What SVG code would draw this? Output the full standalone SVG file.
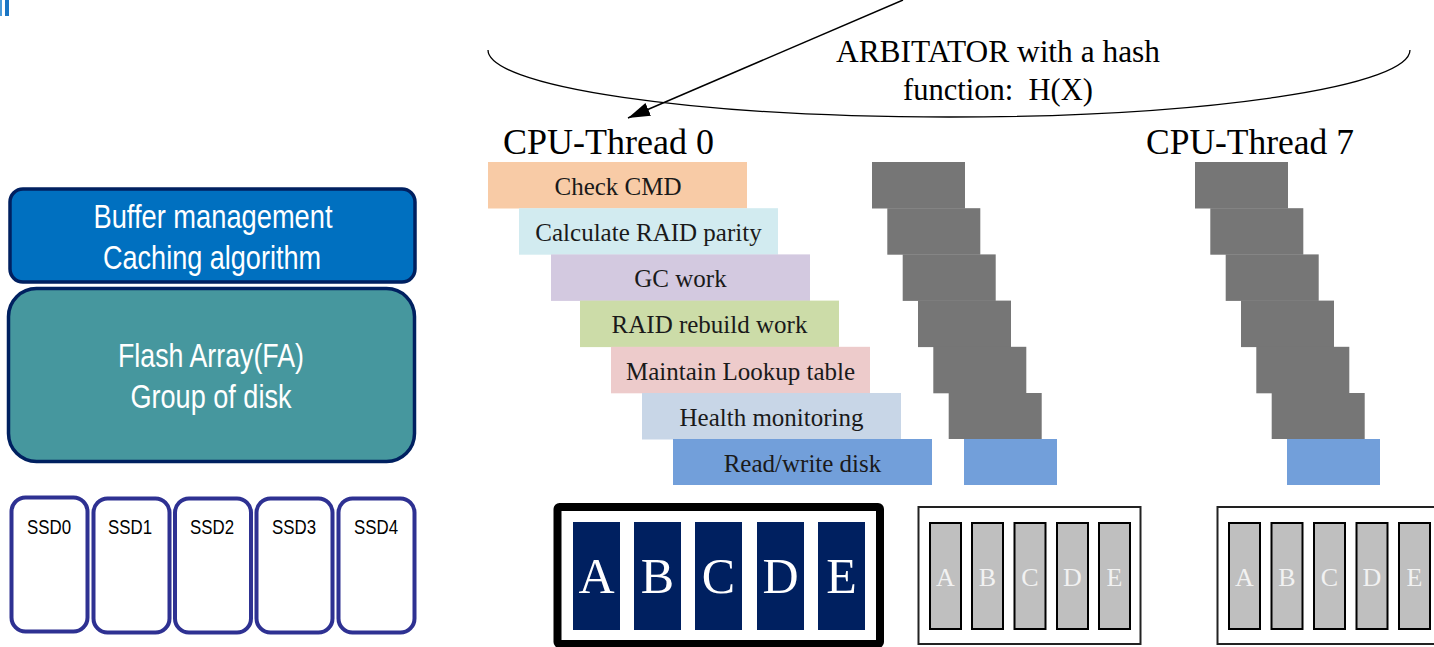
<svg xmlns="http://www.w3.org/2000/svg" width="1434" height="647" viewBox="0 0 1434 647">
<style>
.sans{font-family:"Liberation Sans",Arial,sans-serif;}
.serif{font-family:"Liberation Serif","Times New Roman",serif;}
.wt{fill:#ffffff;}
.task{font-size:25px;fill:#1a1a1a;text-anchor:middle;}
.gray{fill:#767676;}
.blue{fill:#729FDA;}
.ssd{fill:#ffffff;stroke:#2E3192;stroke-width:4;}
.disk{fill:#BFBFBF;stroke:#000;stroke-width:2;}
.glet{font-size:26px;fill:#F2F2F2;text-anchor:middle;}
.nav{fill:#002060;}
.nlet{font-size:50px;fill:#ffffff;text-anchor:middle;}
</style>
<defs>
<marker id="ah" markerUnits="userSpaceOnUse" markerWidth="24" markerHeight="16" refX="22" refY="7" orient="auto">
<path d="M0,0 L22,7 L0,14 Z" fill="#000"/>
</marker>
</defs>
<rect width="1434" height="647" fill="#ffffff"/>
<g id="corner-mark">
<rect x="0" y="0" width="2" height="16" fill="#4A9AD8"/>
<rect x="5" y="0" width="4" height="16" fill="#1A75C4"/>
</g>
<g id="buffer">
<rect x="10" y="189" width="405" height="93" rx="13" fill="#0070C0" stroke="#002060" stroke-width="3.5"/>
<text class="sans wt" x="213" y="228" font-size="34" text-anchor="middle" textLength="239" lengthAdjust="spacingAndGlyphs">Buffer management</text>
<text class="sans wt" x="212" y="269" font-size="34" text-anchor="middle" textLength="218" lengthAdjust="spacingAndGlyphs">Caching algorithm</text>
</g>
<g id="flash">
<rect x="8.5" y="288.5" width="406" height="173" rx="28" fill="#46979E" stroke="#002060" stroke-width="3.5"/>
<text class="sans wt" x="211" y="367" font-size="34" text-anchor="middle" textLength="186" lengthAdjust="spacingAndGlyphs">Flash Array(FA)</text>
<text class="sans wt" x="211" y="408" font-size="34" text-anchor="middle" textLength="161" lengthAdjust="spacingAndGlyphs">Group of disk</text>
</g>
<g id="ssds">
<g id="ssd0"><rect class="ssd" x="11.5" y="497.5" width="76" height="134" rx="14"/><text class="sans" x="49" y="534" font-size="21" text-anchor="middle" textLength="44" lengthAdjust="spacingAndGlyphs">SSD0</text></g>
<g id="ssd1"><rect class="ssd" x="93.5" y="498.5" width="76" height="134" rx="14"/><text class="sans" x="130" y="534" font-size="21" text-anchor="middle" textLength="44" lengthAdjust="spacingAndGlyphs">SSD1</text></g>
<g id="ssd2"><rect class="ssd" x="175" y="498.5" width="76" height="134" rx="14"/><text class="sans" x="212" y="534" font-size="21" text-anchor="middle" textLength="44" lengthAdjust="spacingAndGlyphs">SSD2</text></g>
<g id="ssd3"><rect class="ssd" x="256.5" y="498.5" width="76" height="134" rx="14"/><text class="sans" x="294" y="534" font-size="21" text-anchor="middle" textLength="44" lengthAdjust="spacingAndGlyphs">SSD3</text></g>
<g id="ssd4"><rect class="ssd" x="338.5" y="498.5" width="76" height="134" rx="14"/><text class="sans" x="376" y="534" font-size="21" text-anchor="middle" textLength="44" lengthAdjust="spacingAndGlyphs">SSD4</text></g>
</g>
<g id="arbitrator">
<path d="M488,50 A461,67 0 0 0 1410,50" fill="none" stroke="#000" stroke-width="1.3"/>
<text class="serif" x="998" y="62" font-size="31" text-anchor="middle" textLength="324" lengthAdjust="spacingAndGlyphs">ARBITATOR with a hash</text>
<text class="serif" x="998" y="100" font-size="31" text-anchor="middle" textLength="190" lengthAdjust="spacingAndGlyphs" xml:space="preserve">function:  H(X)</text>
</g>
<g id="connectors">
<line x1="903" y1="0" x2="628" y2="118" stroke="#000" stroke-width="1.5" marker-end="url(#ah)"/>
</g>
<g id="thread0">
<text class="serif" x="503" y="154" font-size="36" textLength="211" lengthAdjust="spacingAndGlyphs">CPU-Thread 0</text>
<g id="t-check"><rect x="488" y="162" width="259" height="46.5" fill="#F8CBA6"/><text class="serif task" x="618" y="195">Check CMD</text></g>
<g id="t-parity"><rect x="519" y="208.2" width="259" height="46.5" fill="#D2EBF0"/><text class="serif task" x="648.5" y="241">Calculate RAID parity</text></g>
<g id="t-gc"><rect x="551" y="254.4" width="259" height="46.5" fill="#D3C9E0"/><text class="serif task" x="680.5" y="287">GC work</text></g>
<g id="t-rebuild"><rect x="580" y="300.6" width="259" height="46.5" fill="#CCDCA8"/><text class="serif task" x="709.5" y="333">RAID rebuild work</text></g>
<g id="t-lookup"><rect x="611" y="346.8" width="259" height="46.5" fill="#EDCBCB"/><text class="serif task" x="740.5" y="380">Maintain Lookup table</text></g>
<g id="t-health"><rect x="642" y="393" width="259" height="46.5" fill="#C8D6E7"/><text class="serif task" x="771.5" y="426">Health monitoring</text></g>
<g id="t-rw"><rect x="673" y="439" width="259" height="46" fill="#729FDA"/><text class="serif task" x="802.5" y="472">Read/write disk</text></g>
</g>
<g id="thread1">
<rect class="gray" x="872" y="162" width="93" height="46.5"/>
<rect class="gray" x="887.3" y="208.2" width="93" height="46.5"/>
<rect class="gray" x="902.7" y="254.4" width="93" height="46.5"/>
<rect class="gray" x="918" y="300.6" width="93" height="46.5"/>
<rect class="gray" x="933.3" y="346.8" width="93" height="46.5"/>
<rect class="gray" x="948.7" y="393" width="93" height="46"/>
<rect class="blue" x="964" y="439" width="93" height="46"/>
</g>
<g id="thread7">
<text class="serif" x="1146" y="154" font-size="36" textLength="208" lengthAdjust="spacingAndGlyphs">CPU-Thread 7</text>
<rect class="gray" x="1195" y="162" width="93" height="46.5"/>
<rect class="gray" x="1210.3" y="208.2" width="93" height="46.5"/>
<rect class="gray" x="1225.7" y="254.4" width="93" height="46.5"/>
<rect class="gray" x="1241" y="300.6" width="93" height="46.5"/>
<rect class="gray" x="1256.3" y="346.8" width="93" height="46.5"/>
<rect class="gray" x="1271.7" y="393" width="93" height="46"/>
<rect class="blue" x="1287" y="439" width="93" height="46"/>
</g>
<g id="array0">
<rect x="557.5" y="507" width="322.5" height="137" fill="#ffffff" stroke="#000" stroke-width="8" rx="2"/>
<rect class="nav" x="573" y="522" width="47" height="108"/><text class="serif nlet" x="596.5" y="593">A</text>
<rect class="nav" x="634" y="522" width="47" height="108"/><text class="serif nlet" x="657.5" y="593">B</text>
<rect class="nav" x="695" y="522" width="47" height="108"/><text class="serif nlet" x="718.5" y="593">C</text>
<rect class="nav" x="757" y="522" width="47" height="108"/><text class="serif nlet" x="780.5" y="593">D</text>
<rect class="nav" x="818" y="522" width="47" height="108"/><text class="serif nlet" x="841.5" y="593">E</text>
</g>
<g id="array1">
<rect x="918.5" y="507" width="222" height="137" fill="#ffffff" stroke="#222" stroke-width="2"/>
<rect class="disk" x="930" y="523" width="31" height="106"/><text class="serif glet" x="945.5" y="586">A</text>
<rect class="disk" x="972" y="523" width="31" height="106"/><text class="serif glet" x="987.5" y="586">B</text>
<rect class="disk" x="1014.5" y="523" width="31" height="106"/><text class="serif glet" x="1030" y="586">C</text>
<rect class="disk" x="1057" y="523" width="31" height="106"/><text class="serif glet" x="1072.5" y="586">D</text>
<rect class="disk" x="1099" y="523" width="31" height="106"/><text class="serif glet" x="1114.5" y="586">E</text>
</g>
<g id="array7">
<rect x="1217.5" y="507" width="230" height="137" fill="#ffffff" stroke="#222" stroke-width="2"/>
<rect class="disk" x="1229" y="523" width="31" height="106"/><text class="serif glet" x="1244.5" y="586">A</text>
<rect class="disk" x="1271.5" y="523" width="31" height="106"/><text class="serif glet" x="1287" y="586">B</text>
<rect class="disk" x="1314" y="523" width="31" height="106"/><text class="serif glet" x="1329.5" y="586">C</text>
<rect class="disk" x="1356.5" y="523" width="31" height="106"/><text class="serif glet" x="1372" y="586">D</text>
<rect class="disk" x="1399" y="523" width="31" height="106"/><text class="serif glet" x="1414.5" y="586">E</text>
</g>
</svg>
